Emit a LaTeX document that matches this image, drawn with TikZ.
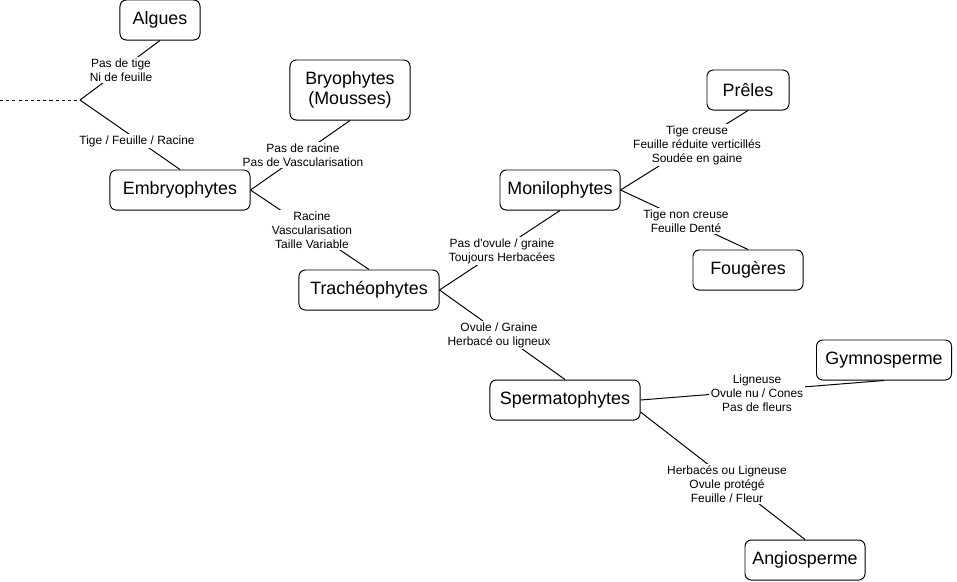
\documentclass[tikz,border=0pt]{standalone}
\usepackage{fontspec}
\setmainfont{Liberation Sans}
\usepackage{tikz}

\begin{document}
\begin{tikzpicture}[x=0.025cm, y=-0.025cm, line width=0.7pt,
    taxon/.style={draw, rounded corners=4.5pt, fill=white, minimum height=1cm, inner sep=0pt, align=center, font=\fontsize{12.7}{14.2}\selectfont},
    trait/.style={fill=white, inner sep=1pt, align=center, font=\fontsize{8.5}{10}\selectfont}]
    \useasboundingbox (0,0) rectangle (957,581);
    \node[taxon, minimum width=2cm] (algues) at (160,20) {Algues};
    \node[taxon, minimum width=3cm, minimum height=1.5cm] (bryo) at (350,90) {Bryophytes\\(Mousses)};
    \node[taxon, minimum width=3.5cm] (embryo) at (180,190) {Embryophytes};
    \node[taxon, minimum width=3cm] (moni) at (560,190) {Monilophytes};
    \node[taxon, minimum width=2.05cm] (preles) at (748,90) {Prêles};
    \node[taxon, minimum width=2.75cm] (fougeres) at (748,270) {Fougères};
    \node[taxon, minimum width=3.5cm] (tracheo) at (369,290) {Trachéophytes};
    \node[taxon, minimum width=3.75cm] (sperma) at (565,400) {Spermatophytes};
    \node[taxon, minimum width=3.375cm] (gymno) at (884,360) {Gymnosperme};
    \node[taxon, minimum width=3cm] (angio) at (805,560) {Angiosperme};

    \coordinate (root) at (0,100);
    \coordinate (fork) at (80,100);
    \coordinate (spermaout) at ([yshift=-0.3cm]sperma.east);
    \draw[dash pattern=on 2.2pt off 2.2pt] (root) -- (fork);
    \draw (fork) -- (algues.south);
    \draw (fork) -- (embryo.north);
    \draw (embryo.east) -- (bryo.south);
    \draw (embryo.east) -- (tracheo.north);
    \draw (tracheo.east) -- (moni.south);
    \draw (tracheo.east) -- (sperma.north);
    \draw (moni.east) -- (preles.south);
    \draw (moni.east) -- (fougeres.north);
    \draw (sperma.east) -- (gymno.south);
    \draw (spermaout) -- (angio.north);

    \node[trait] (tige) at (121,70) {Pas de tige\\Ni de feuille};
    \node[trait] (racine) at (137,141) {Tige / Feuille / Racine};
    \node[trait] (mousse) at (303,155) {Pas de racine\\Pas de Vascularisation};
    \node[trait] (vascu) at (312,230) {Racine\\Vascularisation\\Taille Variable};
    \node[trait] (ovule) at (502,251) {Pas d\textquotesingle ovule / graine\\Toujours Herbacées};
    \node[trait] (graine) at (499,335) {Ovule / Graine\\Herbacé ou ligneux};
    \node[trait] (creuse) at (697,145) {Tige creuse\\Feuille réduite verticillés\\Soudée en gaine};
    \node[trait] (dente) at (686,221) {Tige non creuse\\Feuille Denté};
    \node[trait] (cones) at (757,393) {Ligneuse\\Ovule nu / Cones\\Pas de fleurs};
    \node[trait] (fleur) at (727,484) {Herbacés ou Ligneuse\\Ovule protégé\\Feuille / Fleur};
\end{tikzpicture}
\end{document}
